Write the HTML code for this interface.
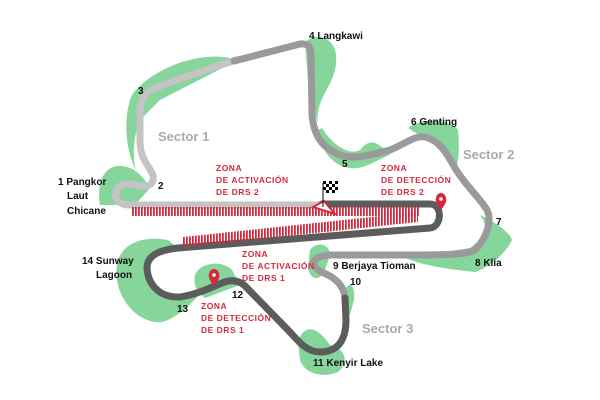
<!DOCTYPE html>
<html><head><meta charset="utf-8"><style>
html,body{margin:0;padding:0;background:#fff;}
svg{display:block}
text{font-family:"Liberation Sans",sans-serif;font-weight:bold;}
</style></head><body>
<svg width="600" height="400" viewBox="0 0 600 400" xmlns="http://www.w3.org/2000/svg">
<defs>
<pattern id="h" width="3" height="10" patternUnits="userSpaceOnUse">
<rect x="0" y="0" width="1.8" height="10" fill="#d42a3f"/>
</pattern>
</defs>
<g fill="#86d59a">
<path d="M100,205 C95,175 110,160 130,168 C140,172 145,180 150,188 L135,205 Z"/>
<path d="M132,95 C150,70 200,48 238,60 L160,100 L140,120 C132,140 133,160 136,170 C125,150 123,115 132,95 Z"/>
<path d="M305,42 C320,30 342,40 335,70 C330,90 315,100 318,125 L308,80 Z"/>
<path d="M318,130 C322,150 330,165 350,168 C365,170 375,160 390,155 C380,145 372,135 360,150 C350,155 335,148 322,128 Z"/>
<path d="M408,128 C420,118 450,118 458,130 C460,150 458,165 455,172 L440,148 Z"/>
<path d="M480,215 C492,220 510,232 512,240 C505,255 488,268 475,272 C460,270 430,268 405,258 L470,248 C483,238 490,228 480,215 Z"/>
<path d="M310,250 C318,240 330,245 330,255 L325,270 C320,282 310,280 308,268 Z"/>
<path d="M345,290 C350,280 355,285 354,300 L350,315 L345,310 Z"/>
<path d="M117,265 C120,245 140,235 168,240 L178,248 C155,250 145,262 150,282 C158,293 185,296 200,294 C190,305 170,325 155,322 C130,318 113,290 117,265 Z"/>
<path d="M195,275 C200,262 222,260 232,270 L240,285 L205,298 C197,292 193,285 195,275 Z"/>
<path d="M298,342 C305,320 320,330 330,345 C345,348 350,362 338,372 C325,378 305,375 300,360 Z"/>
</g>
<g fill="none" stroke-linecap="round" stroke-linejoin="round" stroke-width="7">
<path stroke="#c4c4c4" d="M322,205 L130,205 C118,205 113,198 117,190 C121,182 130,183 140,186 C150,188 156,182 152,173 C147,163 140,158 140,140 L140,113 C140,100 145,92 155,88 C175,80 200,72 236,60"/>
<path stroke="#9a9a9a" d="M234,61 L300,44 C308,43 311,47 311,55 L312,113 C313,135 322,148 340,155 C355,160 370,155 390,150 C405,144 415,135 425,137 C438,140 445,150 455,168 C465,185 480,198 487,210 C493,222 485,240 475,250 C465,256 440,255 330,255 C318,256 312,260 314,265 C316,270 322,272 330,276 C340,282 345,290 345,300"/>
<path stroke="#5c5c5c" d="M345,298 L346,320 C346,340 338,352 320,352 C305,352 296,338 288,330 L247,288 C240,280 232,279 222,283 C210,288 195,295 180,297 C160,298 148,285 147,268 C147,255 160,250 178,248 L430,228 C442,227 443,204 430,204 L322,204"/>
</g>
<rect x="132" y="207" width="287" height="9" fill="url(#h)"/>
<path d="M183,237 L418,212 L418,222 L183,247 Z" fill="url(#h)"/>
<path d="M324,201 L335,214 L313,207 Z" fill="#fff" stroke="#d42a3f" stroke-width="2"/>
<line x1="323" y1="183" x2="323" y2="207" stroke="#000" stroke-width="1"/>
<g fill="#000">
<rect x="323" y="181" width="3" height="3"/><rect x="329" y="181" width="3" height="3"/><rect x="335" y="181" width="3" height="3"/>
<rect x="326" y="184" width="3" height="3"/><rect x="332" y="184" width="3" height="3"/>
<rect x="323" y="187" width="3" height="3"/><rect x="329" y="187" width="3" height="3"/><rect x="335" y="187" width="3" height="3"/>
<rect x="326" y="190" width="3" height="3"/><rect x="332" y="190" width="3" height="3"/>
</g>
<g fill="#d42a3f">
<path d="M441,210 C436,204 435,200 436,198 A5,5 0 1 1 446,198 C447,200 446,204 441,210 Z"/>
<path d="M214,286 C209,280 208,276 209,274 A5,5 0 1 1 219,274 C220,276 219,280 214,286 Z"/>
</g>
<circle cx="441" cy="199" r="1.8" fill="#fff"/><circle cx="214" cy="275" r="1.8" fill="#fff"/>
<g font-size="10" fill="#111">
<text x="309" y="39">4 Langkawi</text>
<text x="138" y="94">3</text>
<text x="158" y="189">2</text>
<text x="342" y="167">5</text>
<text x="411" y="125">6 Genting</text>
<text x="496" y="225">7</text>
<text x="475" y="266">8 Klia</text>
<text x="333" y="269">9 Berjaya Tioman</text>
<text x="350" y="285">10</text>
<text x="313" y="366">11 Kenyir Lake</text>
<text x="232" y="298">12</text>
<text x="177" y="312">13</text>
<text x="82" y="264">14 Sunway</text>
<text x="96" y="278">Lagoon</text>
<text x="58" y="185">1 Pangkor</text>
<text x="67" y="199">Laut</text>
<text x="67" y="214">Chicane</text>
</g>
<g font-size="13" fill="#aaaaaa">
<text x="158" y="141">Sector 1</text>
<text x="463" y="159">Sector 2</text>
<text x="362" y="333">Sector 3</text>
</g>
<g font-size="8.5" fill="#d42a3f" letter-spacing="0.5">
<text x="216" y="171">ZONA</text><text x="216" y="183">DE ACTIVACIÓN</text><text x="216" y="195">DE DRS 2</text>
<text x="381" y="171">ZONA</text><text x="381" y="183">DE DETECCIÓN</text><text x="381" y="195">DE DRS 2</text>
<text x="242" y="257">ZONA</text><text x="242" y="269">DE ACTIVACIÓN</text><text x="242" y="281">DE DRS 1</text>
<text x="201" y="309">ZONA</text><text x="201" y="321">DE DETECCIÓN</text><text x="201" y="333">DE DRS 1</text>
</g>
</svg>
</body></html>
